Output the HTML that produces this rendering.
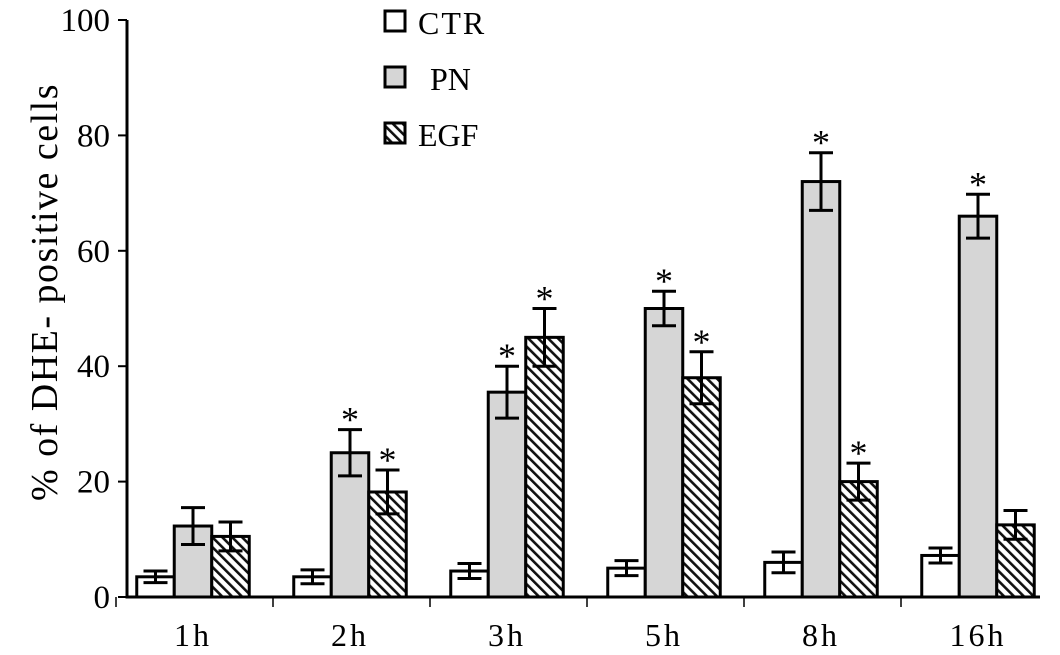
<!DOCTYPE html>
<html><head><meta charset="utf-8"><style>
body{margin:0;background:#fff}
svg{display:block;font-family:"Liberation Serif",serif}
</style></head><body>
<svg id="chart" width="1060" height="655" viewBox="0 0 1060 655">
<defs>
<pattern id="hatch" patternUnits="userSpaceOnUse" width="7" height="7" patternTransform="rotate(-45)">
<rect width="7" height="7" fill="#fff"/>
<rect x="0" y="0" width="2.6" height="7" fill="#111"/>
</pattern>
</defs>
<g id="plot"></g>
</svg>
<script>
const categories=["1h","2h","3h","5h","8h","16h"];
const ctrValues=[3.5,3.5,4.5,5,6,7.2];
const ctrErrors=[1,1.2,1.3,1.3,1.8,1.3];
const pnValues=[12.3,25,35.5,50,72,66];
const pnErrors=[3.2,4,4.5,3,5,3.8];
const egfValues=[10.5,18.2,45,38,20,12.5];
const egfErrors=[2.5,3.8,5,4.5,3.2,2.5];
const pnStars=[false,true,true,true,true,true];
const egfStars=[false,true,true,true,true,false];
const yTicks=[0,20,40,60,80,100];
const legendLabels=["CTR","PN","EGF"];

const NS="http://www.w3.org/2000/svg";
const g=document.getElementById('plot');
const X0=127,X1=1040,Y0=597,Y1=20;
const y=v=>Y0-(v/100)*(Y0-Y1);
const groupCenter=i=>193+i*157;
const BW=37.5;
function el(t,a,p){const e=document.createElementNS(NS,t);for(const k in a)e.setAttribute(k,a[k]);(p||g).appendChild(e);return e;}

yTicks.forEach(t=>{
  const l=el('line',{x1:X0-9,x2:X0,y1:y(t),y2:y(t),stroke:'#000','stroke-width':2});
  
  
  const tx=el('text',{x:X0-17,y:y(t)+11,'text-anchor':'end','font-size':33});
  tx.textContent=t;
  
  
});
const series=[
 {v:ctrValues,e:ctrErrors,fill:'#fff',s:null,off:-1},
 {v:pnValues,e:pnErrors,fill:'#d6d6d6',s:pnStars,off:0},
 {v:egfValues,e:egfErrors,fill:'url(#hatch)',s:egfStars,off:1}];
categories.forEach((c,i)=>{
  const cx=groupCenter(i);
  series.forEach((s,k)=>{
    const bx=cx+s.off*BW-BW/2;
    const r=el('rect',{x:bx,y:y(s.v[i]),width:BW,height:Y0-y(s.v[i]),fill:s.fill,stroke:'#000','stroke-width':3});
    
    
    const mx=bx+BW/2,hi=y(s.v[i]+s.e[i]),lo=y(s.v[i]-s.e[i]);
    const eb=el('path',{d:`M${mx},${hi}V${lo}M${mx-12},${hi}H${mx+12}M${mx-12},${lo}H${mx+12}`,stroke:'#000','stroke-width':3,fill:'none'});
    
    
    if(s.s&&s.s[i]){
      const st=el('text',{x:mx,y:hi+2,'text-anchor':'middle','font-size':36});
      st.textContent='*';
      
      
    }
  });
  const tk=el('line',{x1:cx-77,x2:cx-77,y1:Y0,y2:Y0+10,stroke:'#000','stroke-width':1.5});
  
  
  const lb=el('text',{x:cx,y:646,'text-anchor':'middle','font-size':32,'letter-spacing':3});
  lb.textContent=c;
  
  
});
const ax=el('path',{d:`M${X0},${Y1}V${Y0}H${X1}`,stroke:'#000','stroke-width':3,fill:'none'});


const yt=el('text',{x:57,y:292,'text-anchor':'middle','font-size':38,'letter-spacing':1.5,transform:'rotate(-90 57 292)'});
yt.textContent='% of DHE- positive cells';


const fills=['#fff','#d6d6d6','url(#hatch)'];
legendLabels.forEach((L,k)=>{
  const ly=25+k*56;
  const sw=el('rect',{x:385,y:ly-14,width:20,height:20,fill:fills[k],stroke:'#000','stroke-width':3});
  
  
  const t=el('text',{x:k==1?430:418,y:ly+9,'font-size':32,'letter-spacing':k==0?2:0});
  t.textContent=L;
  
  
});
</script>
</body></html>
